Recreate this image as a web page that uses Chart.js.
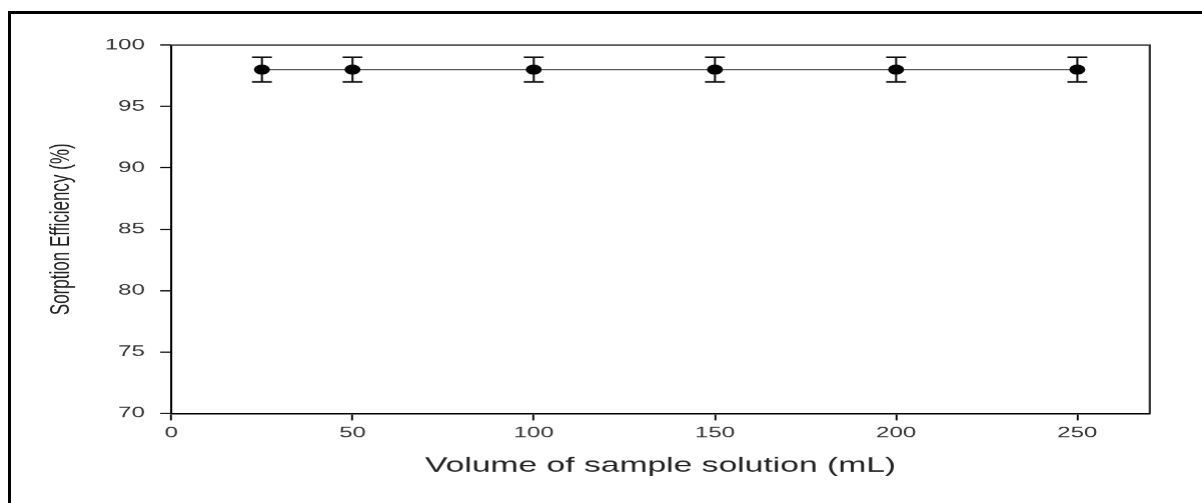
<!DOCTYPE html>
<html>
<head>
<meta charset="utf-8">
<script src="https://cdn.jsdelivr.net/npm/chart.js@4.4.1/dist/chart.umd.min.js"></script>
<style>
    body { margin: 0; background: #fff; }
    #wrap { position: relative; width: 1202px; height: 503px; overflow: hidden; }
    /* the frame round the figure, only top and left are visible */
    #frame { position: absolute; left: 8px; top: 11px; right: -10px; bottom: -10px;
             border-left: 3px solid #000; border-top: 3px solid #000; pointer-events: none; }
</style>
</head>
<body>
<div id="wrap">
    <!-- the figure is stretched sideways, so draw narrow and widen with inline css -->
    <canvas id="c" width="751" height="503" style="width:1202px;height:503px"></canvas>
    <div id="frame"></div>
</div>
<script>
// data
const volumes = [25, 50, 100, 150, 200, 250];
const efficiency = [98, 98, 98, 98, 98, 98];
const errors = [1, 1, 1, 1, 1, 1];

const xTitle = 'Volume of sample solution (mL)';
const yTitle = 'Sorption Efficiency (%)';

const font = 'Liberation Sans, Arial, sans-serif';

// box on top and right of plot
const framePlugin = {
    id: 'frame',
    beforeDatasetsDraw(chart) {
        const { ctx, chartArea: a } = chart;
        ctx.save();
        ctx.strokeStyle = '#333';
        ctx.lineWidth = 1.4;
        ctx.beginPath();
        ctx.moveTo(a.left, a.top);
        ctx.lineTo(a.right, a.top);
        ctx.lineTo(a.right, a.bottom);
        ctx.stroke();
        ctx.restore();
    }
};

// vertical error bars with caps
const errorBars = {
    id: 'errorBars',
    beforeDatasetsDraw(chart) {
        const { ctx, scales: { x, y } } = chart;
        ctx.save();
        ctx.strokeStyle = '#111';
        volumes.forEach((v, i) => {
            const px = x.getPixelForValue(v);
            const top = y.getPixelForValue(efficiency[i] + errors[i]);
            const bot = y.getPixelForValue(efficiency[i] - errors[i]);
            ctx.lineWidth = 1.3;
            ctx.beginPath();
            ctx.moveTo(px, top);
            ctx.lineTo(px, bot);
            ctx.stroke();
            ctx.lineWidth = 1.6;
            ctx.beginPath();
            ctx.moveTo(px - 6.2, top);
            ctx.lineTo(px + 6.2, top);
            ctx.moveTo(px - 6.2, bot);
            ctx.lineTo(px + 6.2, bot);
            ctx.stroke();
        });
        ctx.restore();
    }
};

new Chart(document.getElementById('c'), {
    type: 'scatter',
    data: {
        datasets: [{
            data: volumes.map((v, i) => ({ x: v, y: efficiency[i] })),
            showLine: true,
            borderColor: '#444',
            borderWidth: 1.3,
            pointRadius: 5,
            pointBackgroundColor: '#000',
            pointBorderWidth: 0
        }]
    },
    options: {
        responsive: false,
        devicePixelRatio: 1.6,
        animation: false,
        layout: { padding: { top: 45, right: 33, bottom: 0, left: 0 } },
        plugins: { legend: { display: false }, tooltip: { enabled: false } },
        scales: {
            x: {
                type: 'linear',
                min: 0,
                max: 270,
                afterFit(s) { s.height = 90; },
                ticks: { stepSize: 50, includeBounds: false, padding: 4,
                         color: '#333', font: { family: font, size: 15 } },
                grid: { drawOnChartArea: false, tickLength: 7, tickColor: '#000', tickWidth: 1.2 },
                border: { color: '#000', width: 1.6 },
                title: { display: true, text: xTitle, color: '#222',
                         font: { family: font, size: 21 }, padding: { top: 0, bottom: 25 } }
            },
            y: {
                min: 70,
                max: 100,
                afterFit(s) { s.width = 107; },
                ticks: { stepSize: 5, padding: 9.5,
                         color: '#333', font: { family: font, size: 15 } },
                grid: { drawOnChartArea: false, tickLength: 7, tickColor: '#000', tickWidth: 1.2 },
                border: { color: '#000', width: 1.3 },
                title: { display: true, text: yTitle, color: '#222',
                         font: { family: font, size: 17 }, padding: { top: 28.5, bottom: 0 } }
            }
        }
    },
    plugins: [framePlugin, errorBars]
});
</script>
</body>
</html>
